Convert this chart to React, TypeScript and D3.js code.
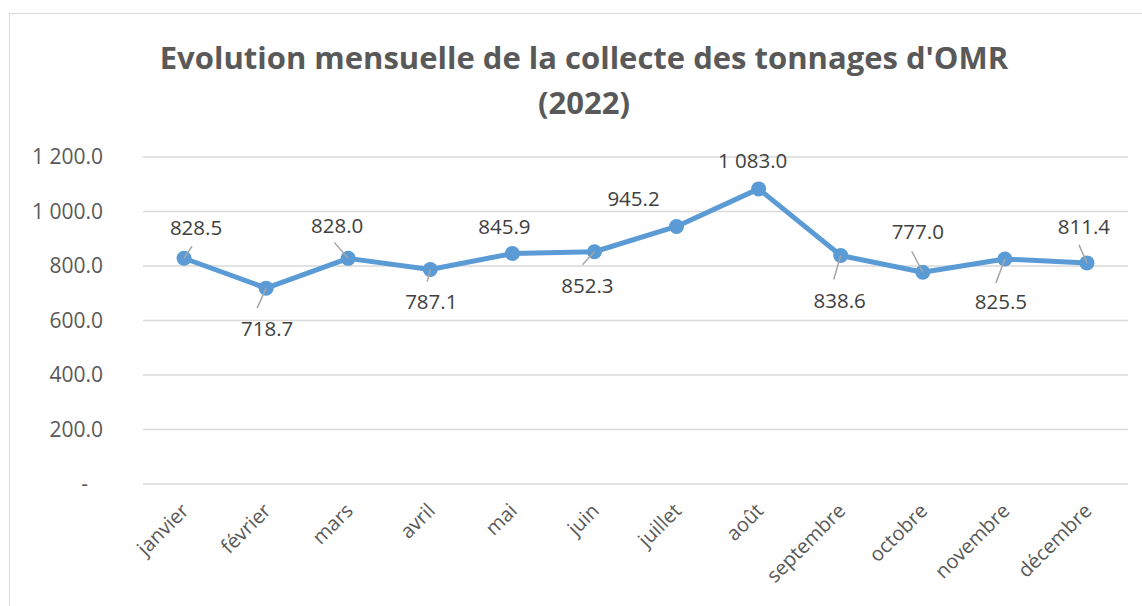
import * as d3 from "d3";
import { useEffect, useRef } from "react";

const months = ["janvier", "février", "mars", "avril", "mai", "juin", "juillet", "août", "septembre", "octobre", "novembre", "décembre"];
const tonnages = [828.5, 718.7, 828.0, 787.1, 845.9, 852.3, 945.2, 1083.0, 838.6, 777.0, 825.5, 811.4];
const yTicks = [0, 200, 400, 600, 800, 1000, 1200];
const titleLines = ["Evolution mensuelle de la collecte des tonnages d'OMR", "(2022)"];

// label placement around each point (layout only)
const labelDx = [12, 1, -11, 1, -8, -7, -43, -6, -1, -5, -4, -3];
const labelDy = [-30, 41, -33, 32, -27, 34, -28, -28, 45, -40, 43, -36];
// leader line ends, null = no leader
const leaderDx = [8, -9, -14, -3, null, -12, null, null, -7, -11, -9, -8];
const leaderDy = [-12, 20, -16, 12, null, 13, null, null, 24, -21, 24, -18];

const W = 1142;
const H = 606;
const FONT = "'Open Sans', sans-serif";

const App = () => {
  const svgRef = useRef<SVGSVGElement>(null);

  useEffect(() => {
    const svg = d3.select(svgRef.current);
    svg.selectAll("*").remove();

    // chart border
    svg.append("rect")
      .attr("x", 9.5).attr("y", 13.5)
      .attr("width", W + 20).attr("height", H)
      .attr("fill", "#fff").attr("stroke", "#d9d9d9");

    // title
    svg.append("text")
      .attr("text-anchor", "middle")
      .attr("font-family", FONT).attr("font-weight", 700)
      .attr("font-size", 31).attr("fill", "#595959")
      .selectAll("tspan")
      .data(titleLines)
      .join("tspan")
      .attr("x", 584)
      .attr("y", (d, i) => 69 + i * 45)
      .text(d => d);

    const x = d3.scaleBand()
      .domain(months)
      .range([143, 1128]);
    const y = d3.scaleLinear()
      .domain([0, 1200])
      .range([484, 157]);

    const fmt = (v: number) => v === 0 ? "-" : d3.format(",.1f")(v).replace(/,/g, " ");

    // grid
    svg.append("g")
      .selectAll("line")
      .data(yTicks)
      .join("line")
      .attr("x1", 143).attr("x2", 1128)
      .attr("y1", d => y(d)).attr("y2", d => y(d))
      .attr("stroke", "#d9d9d9").attr("stroke-width", 1.3);

    // y labels
    svg.append("g")
      .selectAll("text")
      .data(yTicks)
      .join("text")
      .attr("x", d => d === 0 ? 88 : 103)
      .attr("y", d => y(d))
      .attr("dy", "0.35em")
      .attr("text-anchor", "end")
      .attr("font-family", FONT).attr("font-size", 21).attr("fill", "#595959")
      .text(d => fmt(d));

    // x labels
    svg.append("g")
      .selectAll("text")
      .data(months)
      .join("text")
      .attr("transform", d => `translate(${x(d)! + x.bandwidth() / 2 + 6},${512}) rotate(-45)`)
      .attr("text-anchor", "end")
      .attr("font-family", FONT).attr("font-size", 20).attr("fill", "#595959")
      .text(d => d);

    const cx = (i: number) => x(months[i])! + x.bandwidth() / 2;

    // line
    const line = d3.line<number>()
      .x((d, i) => cx(i))
      .y(d => y(d));
    svg.append("path")
      .datum(tonnages)
      .attr("d", line)
      .attr("fill", "none")
      .attr("stroke", "#5b9bd5").attr("stroke-width", 5)
      .attr("stroke-linejoin", "round");

    svg.append("g")
      .selectAll("circle")
      .data(tonnages)
      .join("circle")
      .attr("cx", (d, i) => cx(i))
      .attr("cy", d => y(d))
      .attr("r", 7.5)
      .attr("fill", "#5b9bd5");

    // leader lines
    svg.append("g")
      .selectAll("line")
      .data(tonnages.map((v, i) => ({ v, i })).filter(d => leaderDx[d.i] !== null))
      .join("line")
      .attr("x1", d => cx(d.i))
      .attr("y1", d => y(d.v))
      .attr("x2", d => cx(d.i) + (leaderDx[d.i] as number))
      .attr("y2", d => y(d.v) + (leaderDy[d.i] as number))
      .attr("stroke", "#a6a6a6").attr("stroke-width", 1.5);

    // data labels
    svg.append("g")
      .selectAll("text")
      .data(tonnages)
      .join("text")
      .attr("x", (d, i) => cx(i) + labelDx[i])
      .attr("y", (d, i) => y(d) + labelDy[i])
      .attr("dy", "0.35em")
      .attr("text-anchor", "middle")
      .attr("font-family", FONT).attr("font-size", 20.5).attr("fill", "#404040")
      .text(d => fmt(d));
  }, []);

  return <svg ref={svgRef} width={W} height={H} style={{ display: "block", position: "absolute", left: 0, top: 0 }} />;
};

export default App;
